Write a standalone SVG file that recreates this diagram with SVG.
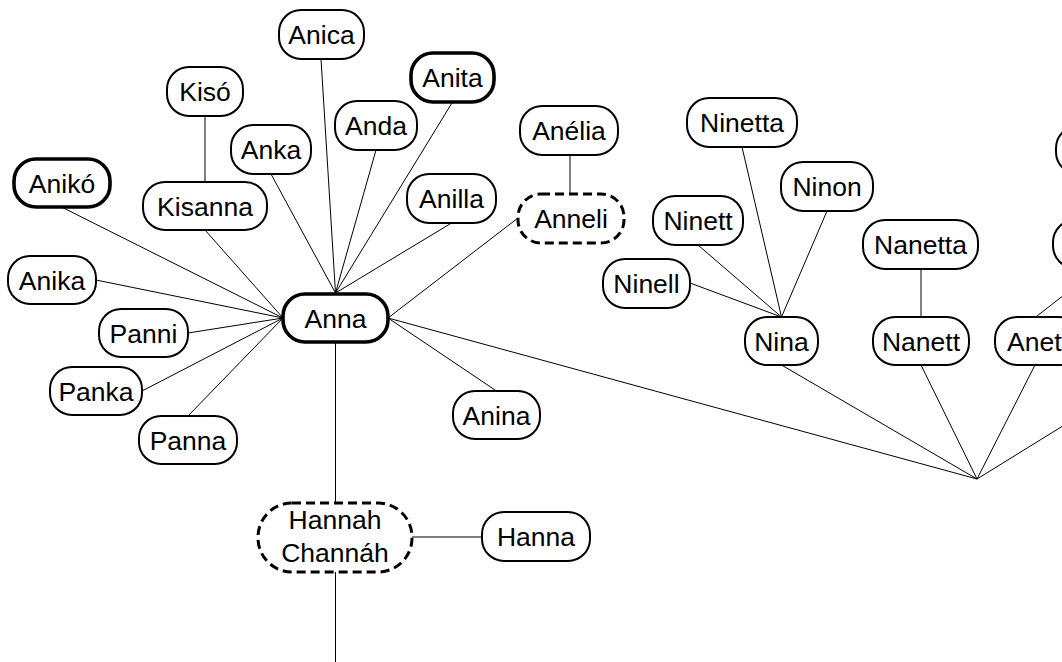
<svg xmlns="http://www.w3.org/2000/svg" width="1062" height="662" viewBox="0 0 1062 662">
<style>
.n rect{fill:#fff;stroke:#000;stroke-width:2}
.n.b rect{stroke-width:3.6}
.n.d rect{stroke-width:3;stroke-dasharray:9 5}
.n text{font-family:"Liberation Sans",Arial,sans-serif;font-size:26.5px;text-anchor:middle;fill:#000}
#edges line{stroke:#000;stroke-width:1}
</style>
<rect width="1062" height="662" fill="#fff"/>
<g id="edges">
<line x1="61.5" y1="207" x2="283" y2="318"/>
<line x1="205" y1="230" x2="283" y2="318"/>
<line x1="96" y1="280" x2="283" y2="318"/>
<line x1="188" y1="333" x2="283" y2="318"/>
<line x1="142" y1="391" x2="283" y2="318"/>
<line x1="188" y1="416" x2="283" y2="318"/>
<line x1="271" y1="174" x2="335.5" y2="293"/>
<line x1="321" y1="59" x2="335.5" y2="293"/>
<line x1="376" y1="150" x2="335.5" y2="293"/>
<line x1="452.5" y1="102" x2="335.5" y2="293"/>
<line x1="451.5" y1="223" x2="335.5" y2="293"/>
<line x1="518" y1="218" x2="388" y2="318"/>
<line x1="496.5" y1="391" x2="388" y2="318"/>
<line x1="388" y1="318" x2="977" y2="479"/>
<line x1="335.5" y1="342" x2="335.5" y2="503"/>
<line x1="335.5" y1="572" x2="335.5" y2="662"/>
<line x1="412" y1="537" x2="482" y2="537"/>
<line x1="205" y1="116" x2="205" y2="182"/>
<line x1="570" y1="155" x2="570" y2="193"/>
<line x1="690" y1="283" x2="781.5" y2="317"/>
<line x1="698" y1="245" x2="781.5" y2="317"/>
<line x1="742" y1="147" x2="781.5" y2="317"/>
<line x1="827" y1="211" x2="781.5" y2="317"/>
<line x1="921" y1="269" x2="921" y2="316"/>
<line x1="1037" y1="316" x2="1100" y2="267"/>
<line x1="781.5" y1="365" x2="977" y2="479"/>
<line x1="921" y1="365" x2="977" y2="479"/>
<line x1="1035" y1="365" x2="977" y2="479"/>
<line x1="977" y1="479" x2="1100" y2="403"/>
</g>
<g id="n-anica" class="n"><rect x="279" y="10" width="85" height="49" rx="22"/><text x="321.5" y="44">Anica</text></g>
<g id="n-kiso" class="n"><rect x="167" y="67" width="76" height="49" rx="22"/><text x="205" y="101">Kisó</text></g>
<g id="n-anita" class="n b"><rect x="411" y="53" width="83" height="49" rx="22"/><text x="452.5" y="87">Anita</text></g>
<g id="n-anda" class="n"><rect x="335" y="101" width="82" height="49" rx="22"/><text x="376" y="135">Anda</text></g>
<g id="n-anka" class="n"><rect x="231" y="125" width="80" height="49" rx="22"/><text x="271" y="159">Anka</text></g>
<g id="n-anelia" class="n"><rect x="520" y="106" width="98" height="49" rx="22"/><text x="569" y="140">Anélia</text></g>
<g id="n-aniko" class="n b"><rect x="14" y="159" width="96" height="48" rx="22"/><text x="62" y="193">Anikó</text></g>
<g id="n-kisanna" class="n"><rect x="143" y="182" width="124" height="48" rx="22"/><text x="205" y="216">Kisanna</text></g>
<g id="n-anilla" class="n"><rect x="407" y="174" width="89" height="49" rx="22"/><text x="451.5" y="208">Anilla</text></g>
<g id="n-anneli" class="n d"><rect x="518" y="194" width="106" height="49" rx="23"/><text x="571" y="228">Anneli</text></g>
<g id="n-anika" class="n"><rect x="8" y="256" width="88" height="48" rx="22"/><text x="52" y="290">Anika</text></g>
<g id="n-anna" class="n b"><rect x="283" y="294" width="105" height="48" rx="22"/><text x="335.5" y="328">Anna</text></g>
<g id="n-panni" class="n"><rect x="99" y="309" width="89" height="48" rx="22"/><text x="143.5" y="343">Panni</text></g>
<g id="n-panka" class="n"><rect x="50" y="367" width="92" height="48" rx="22"/><text x="96" y="401">Panka</text></g>
<g id="n-panna" class="n"><rect x="139" y="416" width="98" height="48" rx="22"/><text x="188" y="450">Panna</text></g>
<g id="n-anina" class="n"><rect x="453" y="391" width="87" height="48" rx="22"/><text x="496.5" y="425">Anina</text></g>
<g id="n-hannah" class="n d"><rect x="258" y="503" width="154" height="69" rx="34"/><text x="335" y="529">Hannah</text><text x="335" y="562">Channáh</text></g>
<g id="n-hanna" class="n"><rect x="482" y="512" width="108" height="49" rx="22"/><text x="536" y="546">Hanna</text></g>
<g id="n-ninetta" class="n"><rect x="687" y="98" width="110" height="49" rx="22"/><text x="742" y="132">Ninetta</text></g>
<g id="n-ninon" class="n"><rect x="781" y="162" width="92" height="49" rx="22"/><text x="827" y="196">Ninon</text></g>
<g id="n-ninett" class="n"><rect x="653" y="196" width="90" height="49" rx="22"/><text x="698" y="230">Ninett</text></g>
<g id="n-nanetta" class="n"><rect x="863" y="220" width="115" height="49" rx="22"/><text x="920.5" y="254">Nanetta</text></g>
<g id="n-ninell" class="n"><rect x="603" y="259" width="87" height="49" rx="22"/><text x="646.5" y="293">Ninell</text></g>
<g id="n-nina" class="n"><rect x="745" y="317" width="73" height="48" rx="22"/><text x="781.5" y="351">Nina</text></g>
<g id="n-nanett" class="n"><rect x="873" y="317" width="96" height="48" rx="22"/><text x="921" y="351">Nanett</text></g>
<g id="n-anett" class="n"><rect x="995" y="317" width="86" height="48" rx="22"/><text x="1038" y="351">Anett</text></g>
<g id="n-right1" class="n"><rect x="1056" y="126" width="86" height="48" rx="22"/></g>
<g id="n-right2" class="n"><rect x="1053" y="220" width="86" height="48" rx="22"/></g>
</svg>
